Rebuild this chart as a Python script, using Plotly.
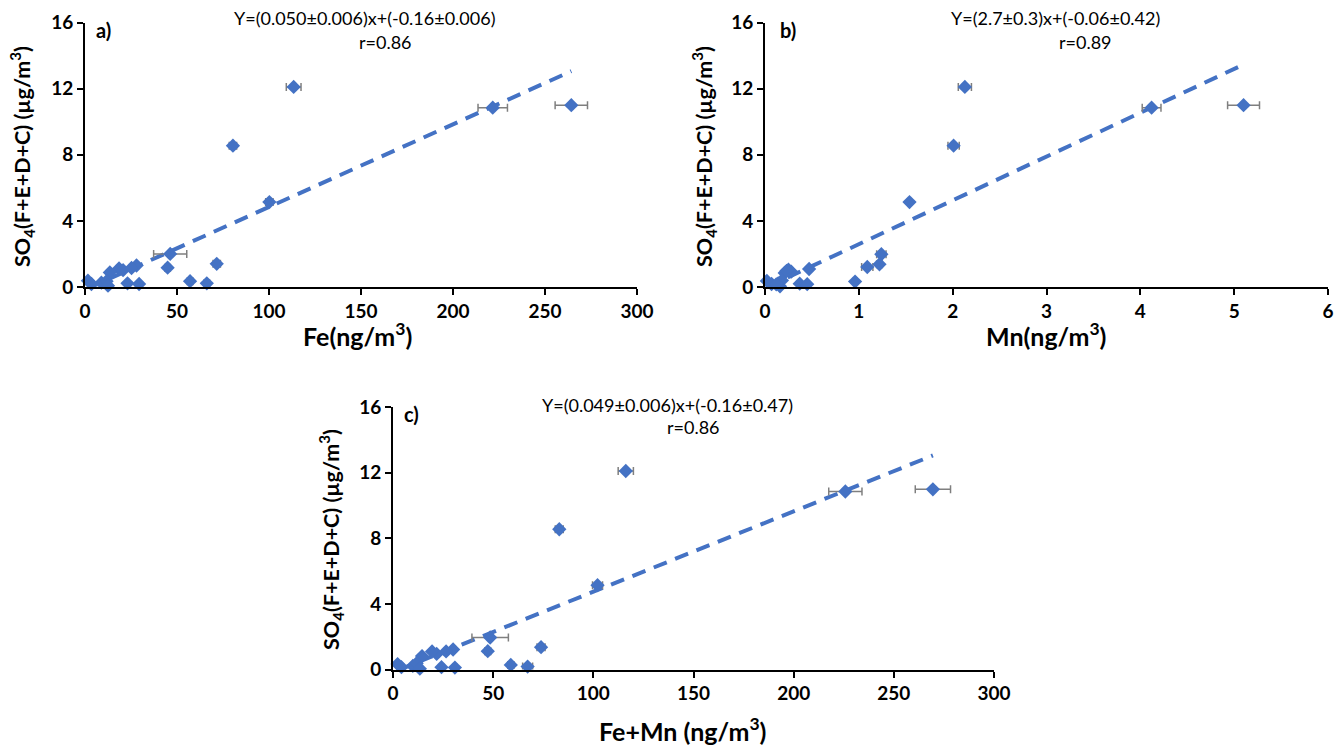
import plotly.graph_objects as go

# ---------------- data ----------------
so4_a = [12.10, 8.55, 5.14, 10.85, 11.00, 2.00, 1.40, 1.17, 0.35, 0.22, 0.18, 0.22,
         1.30, 1.15, 1.12, 1.02, 0.88, 0.38, 0.18, 0.26, 0.35, 0.08]
fe = [113.4, 80.4, 100.2, 221.6, 264.3, 46.3, 71.6, 44.9, 57.1, 66.2, 29.4, 23.1,
      28.0, 25.3, 18.5, 20.7, 13.5, 1.6, 3.5, 8.9, 11.7, 12.5]
fe_err = [4, 2, 2, 8, 8.8, 9, 2, 1.5, 1.5, 1.5, 1, 1, 1, 1, 1, 1, 1, 0.5, 0.5, 0.5, 0.5, 0.5]

so4_b = [12.10, 8.55, 10.85, 11.00, 5.14, 1.98, 1.37, 1.21, 0.33, 1.09, 1.05, 0.85,
         0.93, 0.20, 0.17, 0.37, 0.18, 0.22, 0.04, 0.40, 0.16, 0.98]
mn = [2.13, 2.01, 4.12, 5.10, 1.54, 1.24, 1.22, 1.09, 0.96, 0.47, 0.25, 0.21,
      0.28, 0.37, 0.45, 0.02, 0.07, 0.14, 0.16, 0.18, 0.12, 0.23]
mn_err = [0.07, 0.06, 0.10, 0.17, 0.02, 0.05, 0.03, 0.06, 0.02, 0.02, 0.02, 0.02,
          0.02, 0.01, 0.01, 0.01, 0.01, 0.01, 0.01, 0.01, 0.01, 0.01]

so4_c = [12.10, 8.55, 5.14, 10.85, 10.98, 1.95, 1.36, 1.12, 0.28, 0.18, 0.12, 0.14,
         1.22, 1.10, 0.95, 1.10, 0.82, 0.33, 0.14, 0.22, 0.38, 0.05]
femn = [116.2, 83.0, 102.1, 225.8, 269.5, 48.5, 73.9, 47.3, 58.8, 67.2, 30.9, 24.2,
        30.0, 26.5, 21.8, 19.5, 14.5, 2.3, 4.2, 9.9, 11.8, 13.4]
femn_err = [3.8, 2, 2.5, 8.3, 8.8, 9.1, 2, 1.5, 1.5, 2.5, 1, 1, 1, 1, 1, 1, 1, 0.5, 0.5, 0.5, 0.5, 0.5]

# trendline (slope, intercept) as drawn
trend_a = (0.050, -0.16)
trend_b = (2.65, -0.06)
trend_c = (0.049, -0.16)

eq_a = ["Y=(0.050±0.006)x+(-0.16±0.006)", "r=0.86"]
eq_b = ["Y=(2.7±0.3)x+(-0.06±0.42)", "r=0.89"]
eq_c = ["Y=(0.049±0.006)x+(-0.16±0.47)", "r=0.86"]

x_ticks_a = [0, 50, 100, 150, 200, 250, 300]
x_ticks_b = [0, 1, 2, 3, 4, 5, 6]
y_ticks = [0, 4, 8, 12, 16]

# ---------------- figure ----------------
W, H = 1336, 747
BLUE = "#4472C4"
FONT = "Lato"

fig = go.Figure()

panels = [
    ("x", "y", fe, so4_a, fe_err, trend_a),
    ("x2", "y2", mn, so4_b, mn_err, trend_b),
    ("x3", "y3", femn, so4_c, femn_err, trend_c),
]
for xa, ya, xs, ys, errs, (m, b) in panels:
    x0, x1 = min(xs), max(xs)
    fig.add_trace(go.Scatter(
        x=[x0, x1], y=[m * x0 + b, m * x1 + b], mode="lines",
        line=dict(color=BLUE, width=4, dash="14px,9px"),
        xaxis=xa, yaxis=ya, showlegend=False, hoverinfo="skip"))
    fig.add_trace(go.Scatter(
        x=xs, y=ys, mode="markers",
        marker=dict(symbol="diamond", size=11, color=BLUE),
        error_x=dict(type="data", array=errs, visible=True, color="#7f7f7f",
                     thickness=1.5, width=4),
        cliponaxis=False, xaxis=xa, yaxis=ya, showlegend=False))

def px(v):
    return v / W

def py(v):
    return 1 - v / H

axis_common = dict(showgrid=False, zeroline=False, showline=True, linecolor="black",
                   linewidth=2, ticks="outside", ticklen=6, tickwidth=2, tickcolor="black",
                   automargin=False,
                   tickfont=dict(family=FONT, size=19, color="black", weight="bold"))

dom_a = [px(85), px(637)]
dom_b = [px(765), px(1328)]
dom_c = [px(393), px(994)]
ydom_ab = [py(287), py(22.5)]
ydom_c = [py(669.5), py(407)]

fig.update_layout(
    width=W, height=H, margin=dict(l=0, r=0, t=0, b=0, autoexpand=False),
    paper_bgcolor="white", plot_bgcolor="white",
    font=dict(family=FONT, color="black"),
    xaxis=dict(domain=dom_a, range=[0, 300], tickvals=x_ticks_a, anchor="y", **axis_common),
    yaxis=dict(domain=ydom_ab, range=[0, 16], tickvals=y_ticks, anchor="x", **axis_common),
    xaxis2=dict(domain=dom_b, range=[0, 6], tickvals=x_ticks_b, anchor="y2", **axis_common),
    yaxis2=dict(domain=ydom_ab, range=[0, 16], tickvals=y_ticks, anchor="x2", **axis_common),
    xaxis3=dict(domain=dom_c, range=[0, 300], tickvals=x_ticks_a, anchor="y3", **axis_common),
    yaxis3=dict(domain=ydom_c, range=[0, 16], tickvals=y_ticks, anchor="x3", **axis_common),
)

ann = []
def text(x, y, s, size, bold=False, angle=0, xanchor="center"):
    ann.append(dict(x=px(x), y=py(y), xref="paper", yref="paper", text=s, showarrow=False,
                    textangle=angle, xanchor=xanchor, yanchor="middle",
                    font=dict(family=FONT, size=size, color="black",
                              weight="bold" if bold else "normal")))

ytitle = "SO<sub>4</sub>(F+E+D+C) (µg/m<sup>3</sup>)"
XT = 25
# panel a
text(364, 18, eq_a[0], 18)
text(385, 42, eq_a[1], 18)
text(94, 30, "a)", 20, bold=True, xanchor="left")
text(358, 334, "Fe(ng/m<sup>3</sup>)", XT, bold=True)
text(22, 157, ytitle, 21.5, bold=True, angle=-90)
# panel b
text(1055, 18, eq_b[0], 18)
text(1085, 42, eq_b[1], 18)
text(778, 30, "b)", 20, bold=True, xanchor="left")
text(1046, 334, "Mn(ng/m<sup>3</sup>)", XT, bold=True)
text(704, 157, ytitle, 21.5, bold=True, angle=-90)
# panel c
text(667, 405, eq_c[0], 18)
text(693, 427, eq_c[1], 18)
text(402, 414, "c)", 20, bold=True, xanchor="left")
text(682, 729, "Fe+Mn (ng/m<sup>3</sup>)", XT, bold=True)
text(331, 540, ytitle, 21.5, bold=True, angle=-90)

fig.update_layout(annotations=ann)
fig.write_html("out.html", config={"displayModeBar": False},
               post_script="document.body.style.margin='0px';document.body.style.overflow='hidden';")
